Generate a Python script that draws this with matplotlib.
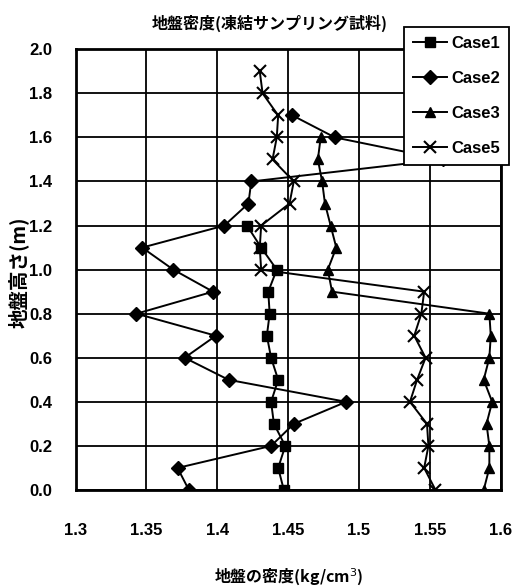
import numpy as np
import matplotlib
matplotlib.use("Agg")
import matplotlib.pyplot as plt
from matplotlib.ticker import FuncFormatter

plt.rcParams['font.family'] = ['Noto Sans CJK JP', 'DejaVu Sans']

# 地盤高さ(m) ごとの密度 (g/cm3)
case1_h = [0.0, 0.1, 0.2, 0.3, 0.4, 0.5, 0.6, 0.7, 0.8, 0.9, 1.0, 1.1, 1.2]
case1_d = [1.447, 1.443, 1.448, 1.440, 1.438, 1.443, 1.438, 1.435, 1.437, 1.436,
           1.442, 1.431, 1.421]

case2_h = [0.0, 0.1, 0.2, 0.3, 0.4, 0.5, 0.6, 0.7, 0.8, 0.9, 1.0, 1.1, 1.2,
           1.3, 1.4, 1.5, 1.6, 1.7]
case2_d = [1.380, 1.372, 1.438, 1.454, 1.491, 1.408, 1.377, 1.399, 1.343, 1.397,
           1.369, 1.347, 1.405, 1.422, 1.424, 1.559, 1.483, 1.453]

case3_h = [0.0, 0.1, 0.2, 0.3, 0.4, 0.5, 0.6, 0.7, 0.8, 0.9, 1.0, 1.1, 1.2,
           1.3, 1.4, 1.5, 1.6]
case3_d = [1.588, 1.592, 1.592, 1.590, 1.594, 1.588, 1.592, 1.593, 1.592, 1.481,
           1.478, 1.484, 1.480, 1.476, 1.474, 1.471, 1.473]

case5_h = [0.0, 0.1, 0.2, 0.3, 0.4, 0.5, 0.6, 0.7, 0.8, 0.9, 1.0, 1.1, 1.2,
           1.3, 1.4, 1.5, 1.6, 1.7, 1.8, 1.9]
case5_d = [1.554, 1.546, 1.549, 1.548, 1.536, 1.541, 1.547, 1.539, 1.544, 1.546,
           1.431, 1.430, 1.431, 1.451, 1.454, 1.439, 1.442, 1.443, 1.432, 1.430]

x_ticks = [1.3, 1.35, 1.4, 1.45, 1.5, 1.55, 1.6]
y_ticks = [0.0, 0.2, 0.4, 0.6, 0.8, 1.0, 1.2, 1.4, 1.6, 1.8, 2.0]

tick_font = ['Liberation Sans', 'DejaVu Sans']

fig = plt.figure(figsize=(5.13, 5.88), dpi=100)
ax = fig.add_axes([0.1472, 0.1667, 0.8288, 0.7495])

ax.plot(case1_d, case1_h, color='k', lw=1.4, marker='s', ms=6.5, label='Case1')
ax.plot(case2_d, case2_h, color='k', lw=1.4, marker='D', ms=7, label='Case2')
ax.plot(case3_d, case3_h, color='k', lw=1.4, marker='^', ms=7.5, label='Case3')
ax.plot(case5_d, case5_h, color='k', lw=1.4, marker='x', ms=8, mew=1.5, label='Case5')

ax.set_xlim(1.3, 1.6)
ax.set_ylim(0.0, 2.0)
ax.set_xticks(x_ticks)
ax.set_yticks(y_ticks)
ax.xaxis.set_major_formatter(FuncFormatter(lambda v, p: '%g' % v))
ax.yaxis.set_major_formatter(FuncFormatter(lambda v, p: '%.1f' % v))
ax.tick_params(length=0, labelsize=12)
ax.tick_params(axis='x', pad=24)
ax.tick_params(axis='y', pad=17)
for lab in ax.get_xticklabels() + ax.get_yticklabels():
    lab.set_family(tick_font)
    lab.set_fontweight('bold')

ax.grid(True, color='k', lw=1.3)
ax.set_axisbelow(True)
for sp in ax.spines.values():
    sp.set_linewidth(2.0)

leg = ax.legend(loc='upper right', bbox_to_anchor=(0.992, 0.954),
                bbox_transform=fig.transFigure, frameon=True, fancybox=False,
                edgecolor='k', framealpha=1, handlelength=2.0, handletextpad=0.25,
                labelspacing=1.2, borderpad=0.55, borderaxespad=0,
                prop={'family': tick_font, 'weight': 'bold', 'size': 12})
leg.get_frame().set_linewidth(1.3)

fig.text(270 / 513, 1 - 23 / 588, '地盤密度(凍結サンプリング試料)',
         ha='center', va='center', fontsize=11.5, fontweight='bold')
fig.text(18 / 513, 1 - 272 / 588, '地盤高さ(m)', rotation=90,
         ha='center', va='center', fontsize=14, fontweight='bold')
fig.text(289 / 513, 1 - 577 / 588, '地盤の密度(kg/cm$^3$)',
         ha='center', va='center', fontsize=11.5, fontweight='bold')

fig.savefig('out.png', dpi=100)
